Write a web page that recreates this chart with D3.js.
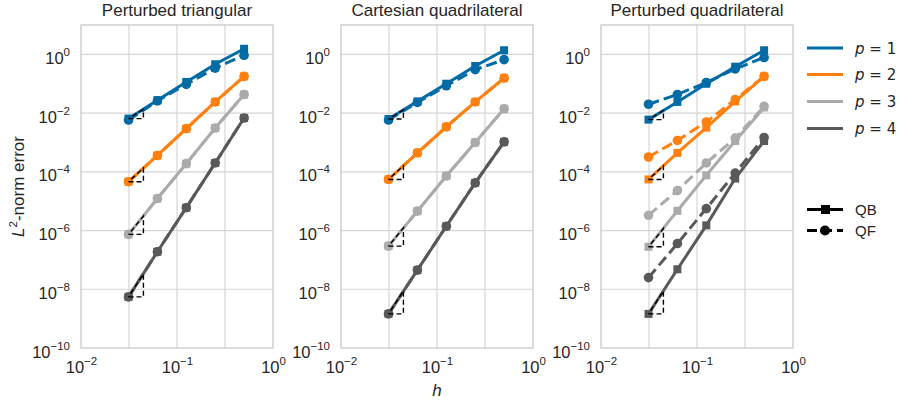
<!DOCTYPE html>
<html>
<head>
<meta charset="utf-8">
<script src="https://cdn.jsdelivr.net/npm/d3@7"></script>
<style>
  body { margin: 0; background: #fff; }
  svg { display: block; }
</style>
</head>
<body>
<div id="chart"></div>
<script>
// mesh sizes h
const hValues = [1 / 32, 1 / 16, 1 / 8, 1 / 4, 1 / 2];
const orders = [1, 2, 3, 4];
const rates = [2, 3, 4, 5];
const panelTitles = ['Perturbed triangular', 'Cartesian quadrilateral', 'Perturbed quadrilateral'];
const xTicks = [1e-2, 1e-1, 1e0];
const xGrid = [Math.pow(10, -1.5), 1e-1, Math.pow(10, -0.5)];
const yTicks = [1e-10, 1e-8, 1e-6, 1e-4, 1e-2, 1e0];

// L2 errors, one row per p = 1..4
const triQB = [
  [6.5e-3, 2.75e-2, 1.15e-1, 4.6e-1, 1.55],
  [4.6e-5, 3.6e-4, 2.95e-3, 2.4e-2, 1.78e-1],
  [7.4e-7, 1.23e-5, 1.9e-4, 3.1e-3, 4.3e-2],
  [5.5e-9, 1.9e-7, 6.0e-6, 2.0e-4, 6.8e-3]
];
const triQF = [
  [5.8e-3, 2.6e-2, 9.5e-2, 3.4e-1, 9.3e-1],
  [4.6e-5, 3.6e-4, 2.95e-3, 2.4e-2, 1.78e-1],
  [7.4e-7, 1.23e-5, 1.9e-4, 3.1e-3, 4.3e-2],
  [5.5e-9, 1.9e-7, 6.0e-6, 2.0e-4, 6.8e-3]
];
const cartQB = [
  [6.3e-3, 2.5e-2, 1.0e-1, 4.0e-1, 1.38],
  [5.5e-5, 4.4e-4, 3.4e-3, 2.4e-2, 1.55e-1],
  [2.95e-7, 4.6e-6, 7.2e-5, 1.0e-3, 1.4e-2],
  [1.45e-9, 4.5e-8, 1.4e-6, 4.2e-5, 1.05e-3]
];
const cartQF = [
  [5.8e-3, 2.3e-2, 8.5e-2, 3.0e-1, 6.6e-1],
  [5.5e-5, 4.4e-4, 3.4e-3, 2.4e-2, 1.55e-1],
  [2.95e-7, 4.6e-6, 7.2e-5, 1.0e-3, 1.4e-2],
  [1.45e-9, 4.5e-8, 1.4e-6, 4.2e-5, 1.05e-3]
];
const pertQB = [
  [6.0e-3, 2.4e-2, 1.0e-1, 3.8e-1, 1.38],
  [5.5e-5, 4.4e-4, 3.2e-3, 2.5e-2, 1.78e-1],
  [2.8e-7, 4.7e-6, 7.6e-5, 1.12e-3, 1.55e-2],
  [1.45e-9, 4.8e-8, 1.5e-6, 5.9e-5, 1.12e-3]
];
const pertQF = [
  [2.0e-2, 4.3e-2, 1.1e-1, 3.2e-1, 7.8e-1],
  [3.2e-4, 1.17e-3, 5.0e-3, 2.9e-2, 1.78e-1],
  [3.3e-6, 2.3e-5, 2.0e-4, 1.4e-3, 1.7e-2],
  [2.5e-8, 3.6e-7, 5.6e-6, 9.1e-5, 1.48e-3]
];

const panelQB = [triQB, cartQB, pertQB];
const panelQF = [triQF, cartQF, pertQF];

const colors = ['#006BA4', '#FF800E', '#ABABAB', '#595959'];
const W = 900, H = 404;
const pw = 192, ph = 323, padTop = 25;
const lefts = [81, 341, 601];
const font = 'Liberation Sans, Arial, Helvetica, sans-serif';
const triK = 1.43;

const svg = d3.select('#chart').append('svg')
  .attr('width', W)
  .attr('height', H)
  .style('font-family', font);

const x = d3.scaleLog().domain([1e-2, 1]).range([0, pw]);
const y = d3.scaleLog().domain([1e-10, 10]).range([ph, 0]);

function powLabel(sel) {
  sel.each(function (d) {
    const t = d3.select(this);
    const e = Math.round(Math.log10(d));
    t.text(null);
    t.append('tspan').text('10');
    t.append('tspan')
      .attr('dy', -8)
      .attr('font-size', 11.5)
      .text(e < 0 ? '\u2212' + (-e) : e);
  });
}

const line = d3.line().x(d => x(d[0])).y(d => y(d[1]));

panelTitles.forEach((title, k) => {
  const g = svg.append('g').attr('transform', `translate(${lefts[k]},${padTop})`);

  // grid
  g.append('g')
    .selectAll('line')
    .data(xGrid)
    .enter()
    .append('line')
      .attr('x1', d => x(d)).attr('x2', d => x(d))
      .attr('y1', 0).attr('y2', ph)
      .attr('stroke', '#d5d5d5')
      .attr('stroke-width', 1.2);
  g.append('g')
    .selectAll('line')
    .data(yTicks.slice(1))
    .enter()
    .append('line')
      .attr('x1', 0).attr('x2', pw)
      .attr('y1', d => y(d)).attr('y2', d => y(d))
      .attr('stroke', '#d5d5d5')
      .attr('stroke-width', 1.2);

  // spines
  g.append('rect')
    .attr('width', pw).attr('height', ph)
    .attr('fill', 'none')
    .attr('stroke', '#cccccc')
    .attr('stroke-width', 1.4);

  // axes (labels only)
  const xa = g.append('g')
    .attr('transform', `translate(0,${ph})`)
    .call(d3.axisBottom(x).tickValues(xTicks).tickSize(0));
  xa.select('.domain').remove();
  xa.selectAll('text')
    .attr('y', 25).attr('dy', 0)
    .attr('font-size', 16.5)
    .attr('font-family', font)
    .attr('fill', '#262626')
    .call(powLabel);

  const ya = g.append('g')
    .call(d3.axisLeft(y).tickValues(yTicks).tickSize(0));
  ya.select('.domain').remove();
  ya.selectAll('text')
    .attr('x', -11).attr('dy', 9)
    .attr('font-size', 16.5)
    .attr('font-family', font)
    .attr('fill', '#262626')
    .call(powLabel);

  g.append('text')
    .attr('x', pw / 2)
    .attr('y', -9)
    .attr('text-anchor', 'middle')
    .attr('font-size', 17)
    .attr('fill', '#262626')
    .text(title);

  // curves
  orders.forEach((p, i) => {
    const qb = hValues.map((h, j) => [h, panelQB[k][i][j]]);
    const qf = hValues.map((h, j) => [h, panelQF[k][i][j]]);

    g.append('path')
      .attr('d', line(qb))
      .attr('fill', 'none')
      .attr('stroke', colors[i])
      .attr('stroke-width', 3);
    g.selectAll(null)
      .data(qb)
      .enter()
      .append('rect')
        .attr('x', d => x(d[0]) - 4)
        .attr('y', d => y(d[1]) - 4)
        .attr('width', 8)
        .attr('height', 8)
        .attr('fill', colors[i]);

    g.append('path')
      .attr('d', line(qf))
      .attr('fill', 'none')
      .attr('stroke', colors[i])
      .attr('stroke-width', 3)
      .attr('stroke-dasharray', '11,5');
    g.selectAll(null)
      .data(qf)
      .enter()
      .append('circle')
        .attr('cx', d => x(d[0]))
        .attr('cy', d => y(d[1]))
        .attr('r', 4.8)
        .attr('fill', colors[i]);
  });

  // slope triangles, on top of the curves
  orders.forEach((p, i) => {
    const h0 = hValues[0];
    const e0 = panelQB[k][i][0];
    const h1 = h0 * triK;
    const pts = [[h0, e0], [h1, e0], [h1, e0 * Math.pow(triK, rates[i])], [h0, e0]];
    g.append('path')
      .attr('d', line(pts))
      .attr('fill', 'none')
      .attr('stroke', '#000')
      .attr('stroke-width', 1.4)
      .attr('stroke-dasharray', '5,3');
  });
});

// axis titles
svg.append('text')
  .attr('transform', `translate(24,${padTop + ph / 2}) rotate(-90)`)
  .attr('text-anchor', 'middle')
  .attr('font-size', 17)
  .attr('fill', '#262626')
  .call(t => {
    t.append('tspan').attr('font-style', 'italic').text('L');
    t.append('tspan').attr('dy', -7).attr('font-size', 11.5).text('2');
    t.append('tspan').attr('dy', 7).text('-norm error');
  });

svg.append('text')
  .attr('x', lefts[1] + pw / 2)
  .attr('y', 396)
  .attr('text-anchor', 'middle')
  .attr('font-size', 17)
  .attr('font-style', 'italic')
  .attr('fill', '#262626')
  .text('h');

// legend
const leg = svg.append('g').attr('font-family', 'DejaVu Sans, sans-serif');
const legY = [48, 74.5, 101.5, 128.5];
orders.forEach((p, i) => {
  leg.append('line')
    .attr('x1', 807).attr('x2', 843)
    .attr('y1', legY[i]).attr('y2', legY[i])
    .attr('stroke', colors[i])
    .attr('stroke-width', 3);
  const t = leg.append('text')
    .attr('x', 855)
    .attr('y', legY[i] + 5.5)
    .attr('font-size', 15)
    .attr('fill', '#262626');
  t.append('tspan').attr('font-style', 'italic').text('p');
  t.append('tspan').text(' = ' + p);
});

const styleY = [209.5, 230.5];
['QB', 'QF'].forEach((name, i) => {
  leg.append('line')
    .attr('x1', 807).attr('x2', 843)
    .attr('y1', styleY[i]).attr('y2', styleY[i])
    .attr('stroke', '#000')
    .attr('stroke-width', 3)
    .attr('stroke-dasharray', i === 0 ? null : '10,5');
  if (i === 0) {
    leg.append('rect')
      .attr('x', 821).attr('y', styleY[i] - 4.5)
      .attr('width', 9).attr('height', 9)
      .attr('fill', '#000');
  } else {
    leg.append('circle')
      .attr('cx', 825).attr('cy', styleY[i])
      .attr('r', 5)
      .attr('fill', '#000');
  }
  leg.append('text')
    .attr('x', 855)
    .attr('y', styleY[i] + 5.5)
    .attr('font-size', 15)
    .attr('font-family', font)
    .attr('fill', '#262626')
    .text(name);
});
</script>
</body>
</html>
